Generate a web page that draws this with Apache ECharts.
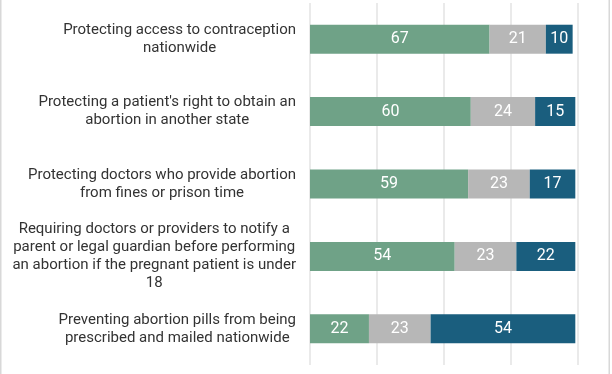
<!DOCTYPE html>
<html>
<head>
<meta charset="utf-8">
<script src="https://cdn.jsdelivr.net/npm/echarts@6/dist/echarts.min.js"></script>
<style>html,body{margin:0;padding:0;background:#fff}#c{width:612px;height:374px}</style>
</head>
<body>
<div id="c"></div>
<script>
var categories = [
  "Protecting access to contraception\nnationwide",
  "Protecting a patient's right to obtain an\nabortion in another state",
  "Protecting doctors who provide abortion\nfrom fines or prison time",
  "Requiring doctors or providers to notify a\nparent or legal guardian before performing\nan abortion if the pregnant patient is under\n18",
  "Preventing abortion pills from being\nprescribed and mailed nationwide"
];
var seriesNames = ["Support", "Neither", "Oppose"];
var greenValues = [67, 60, 59, 54, 22];
var grayValues = [21, 24, 23, 23, 23];
var blueValues = [10, 15, 17, 22, 54];
var xTicks = [0, 25, 50, 75, 100];

var colors = ["#6fa287", "#b7b7b7", "#1a5e7e"];
var chart = echarts.init(document.getElementById('c'), null, {renderer: 'canvas'});
function mk(name, data, color) {
  return {
    name: name, type: 'bar', stack: 'total', data: data, barWidth: '40%',
    itemStyle: {color: color},
    label: {show: true, position: 'inside', color: '#fff', fontSize: 16, fontFamily: 'Roboto'}
  };
}
chart.setOption({
  animation: false,
  grid: {left: 310, right: 34, top: 3, bottom: 9},
  xAxis: {
    type: 'value', min: xTicks[0], max: xTicks[xTicks.length - 1], interval: 25,
    axisLabel: {show: false}, axisLine: {show: false}, axisTick: {show: false},
    splitLine: {lineStyle: {color: '#e3e3e3', width: 1.5}}
  },
  yAxis: {
    type: 'category', inverse: true, data: categories,
    axisLine: {show: false}, axisTick: {show: false},
    axisLabel: {
      margin: 14, color: '#333', fontFamily: 'Roboto', fontSize: 15,
      formatter: function (v) {
        return v.split('\n').map(function (l) { return '{c|' + l + '}'; }).join('\n');
      },
      rich: {c: {align: 'center', fontFamily: 'Roboto', fontSize: 15, lineHeight: 18, color: '#333'}}
    }
  },
  series: [
    mk(seriesNames[0], greenValues, colors[0]),
    mk(seriesNames[1], grayValues, colors[1]),
    mk(seriesNames[2], blueValues, colors[2])
  ],
  graphic: [
    {type: 'rect', shape: {x: 0, y: 0, width: 1.5, height: 374}, style: {fill: '#d8d8d8'}},
    {type: 'rect', shape: {x: 608.5, y: 0, width: 1.5, height: 374}, style: {fill: '#d8d8d8'}}
  ]
});
</script>
</body>
</html>
